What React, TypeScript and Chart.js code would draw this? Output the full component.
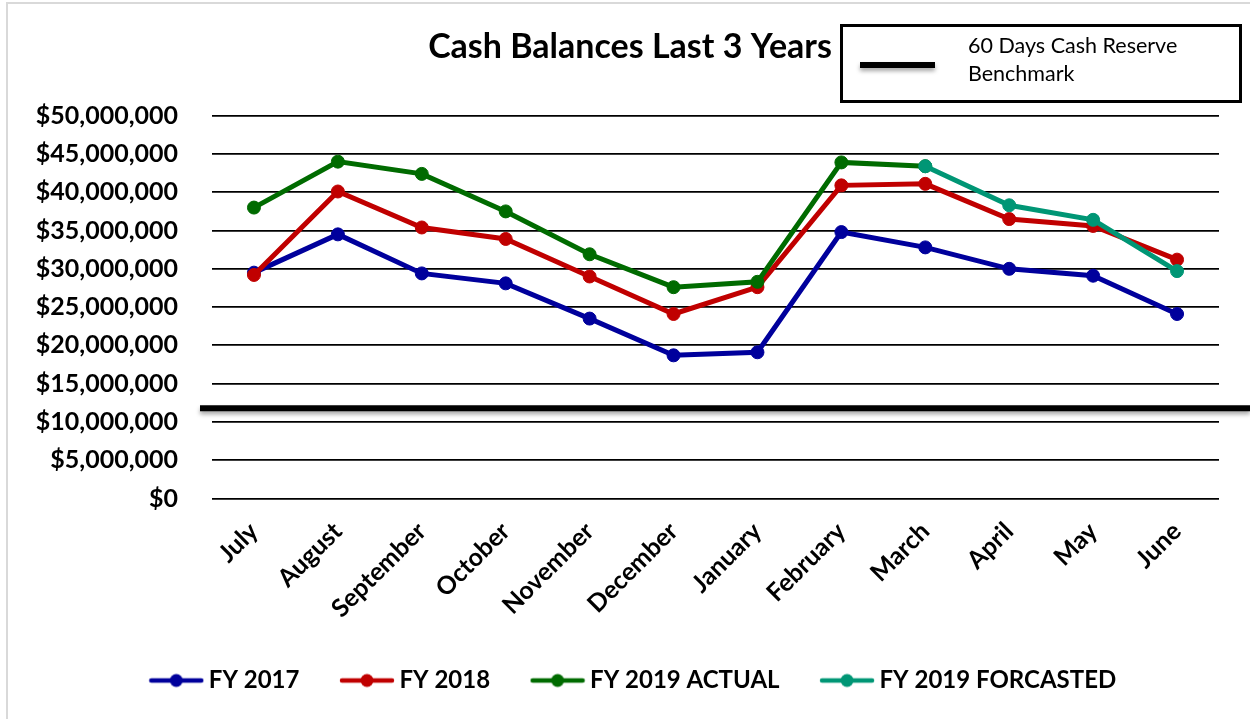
import React, { useEffect, useRef } from "react";
import { Chart, registerables } from "chart.js";

Chart.register(...registerables);

const TITLE = "Cash Balances Last 3 Years";
const BENCHMARK_LABEL = ["60 Days Cash Reserve", "Benchmark"];
const MONTHS = ["July", "August", "September", "October", "November", "December", "January", "February", "March", "April", "May", "June"];
const FY2017 = [29500000, 34500000, 29400000, 28100000, 23500000, 18700000, 19100000, 34800000, 32800000, 30000000, 29100000, 24100000];
const FY2018 = [29200000, 40100000, 35400000, 33900000, 29000000, 24100000, 27600000, 40900000, 41100000, 36500000, 35600000, 31200000];
const FY2019_ACTUAL = [38000000, 44000000, 42400000, 37500000, 31900000, 27600000, 28300000, 43900000, 43400000, null, null, null];
const FY2019_FORECAST = [null, null, null, null, null, null, null, null, 43400000, 38300000, 36400000, 29700000];
const SERIES_NAMES = ["FY 2017", "FY 2018", "FY 2019 ACTUAL", "FY 2019 FORCASTED"];
const SERIES_COLORS = ["#00009C", "#C00000", "#006B00", "#009675"];
const BENCHMARK = 11800000;
const Y_MIN = 0;
const Y_MAX = 50000000;
const Y_STEP = 5000000;

const FONT = "Lato";

function makeIcon(color: string): HTMLCanvasElement {
  const c = document.createElement("canvas");
  c.width = 56;
  c.height = 16;
  const g = c.getContext("2d")!;
  g.strokeStyle = color;
  g.lineWidth = 4.5;
  g.lineCap = "round";
  g.beginPath();
  g.moveTo(3, 8);
  g.lineTo(53, 8);
  g.stroke();
  g.fillStyle = color;
  g.beginPath();
  g.arc(28, 8, 6.5, 0, Math.PI * 2);
  g.fill();
  return c;
}

const overlayPlugin = {
  id: "overlay",
  afterDraw(chart: any) {
    const { ctx } = chart;
    const yScale = chart.scales.y;
    const by = yScale.getPixelForValue(BENCHMARK);

    // benchmark line
    ctx.save();
    ctx.shadowColor = "rgba(0,0,0,0.35)";
    ctx.shadowBlur = 4;
    ctx.shadowOffsetY = 3;
    ctx.strokeStyle = "#000";
    ctx.lineWidth = 6;
    ctx.beginPath();
    ctx.moveTo(200, by);
    ctx.lineTo(1250, by);
    ctx.stroke();
    ctx.restore();

    // title
    ctx.save();
    ctx.fillStyle = "#000";
    ctx.font = `bold 34px ${FONT}`;
    ctx.textAlign = "center";
    ctx.textBaseline = "middle";
    ctx.fillText(TITLE, 630, 47);
    ctx.restore();

    // benchmark legend box
    ctx.save();
    ctx.strokeStyle = "#000";
    ctx.lineWidth = 3;
    ctx.strokeRect(841.5, 25.5, 399, 76);
    ctx.shadowColor = "rgba(0,0,0,0.35)";
    ctx.shadowBlur = 4;
    ctx.shadowOffsetY = 3;
    ctx.lineWidth = 6;
    ctx.beginPath();
    ctx.moveTo(860, 65);
    ctx.lineTo(935, 65);
    ctx.stroke();
    ctx.restore();

    ctx.save();
    ctx.fillStyle = "#000";
    ctx.font = `21.5px ${FONT}`;
    ctx.textAlign = "left";
    ctx.textBaseline = "middle";
    ctx.fillText(BENCHMARK_LABEL[0], 968, 46);
    ctx.fillText(BENCHMARK_LABEL[1], 968, 74);
    ctx.restore();
  },
};

export default function App() {
  const ref = useRef<HTMLCanvasElement>(null);

  useEffect(() => {
    const icons = SERIES_COLORS.map(makeIcon);
    const seriesData = [FY2017, FY2018, FY2019_ACTUAL, FY2019_FORECAST];
    const datasets = seriesData.map((d, i) => ({
      label: SERIES_NAMES[i],
      data: d,
      yAxisID: "y",
      borderColor: SERIES_COLORS[i],
      backgroundColor: SERIES_COLORS[i],
      pointBackgroundColor: SERIES_COLORS[i],
      pointBorderColor: SERIES_COLORS[i],
      pointRadius: 6.5,
      pointBorderWidth: 1,
      borderWidth: 5,
      tension: 0,
      spanGaps: false,
      order: 4 - i,
    }));

    const chart = new Chart(ref.current!, {
      type: "line",
      data: { labels: MONTHS, datasets },
      plugins: [overlayPlugin],
      options: {
        animation: false,
        responsive: false,
        devicePixelRatio: 1,
        layout: { padding: { left: 30, right: 8, top: 115.7, bottom: 16.5 } },
        plugins: {
          title: { display: false },
          tooltip: { enabled: false },
          legend: {
            position: "bottom",
            labels: {
              usePointStyle: true,
              pointStyleWidth: 41,
              padding: 47,
              color: "#000",
              font: { family: FONT, weight: "bold", size: 24 },
              sort: (a: any, b: any) => a.datasetIndex - b.datasetIndex,
              generateLabels(ch: any) {
                const items = (Chart.defaults.plugins.legend.labels as any).generateLabels(ch);
                return items.map((it: any) => ({ ...it, pointStyle: icons[it.datasetIndex] }));
              },
            },
          },
        },
        scales: {
          x: {
            offset: true,
            grid: { display: false },
            border: { display: false },
            ticks: {
              autoSkip: false,
              minRotation: 45,
              maxRotation: 45,
              padding: 10,
              color: "#000",
              font: { family: FONT, weight: "bold", size: 25 },
            },
            afterFit(s: any) {
              s.height = 123;
            },
          },
          y: {
            position: "left",
            min: Y_MIN,
            max: Y_MAX,
            grid: { color: "#000", lineWidth: 1.8, drawTicks: false },
            border: { display: false },
            ticks: {
              stepSize: Y_STEP,
              padding: 34,
              color: "#000",
              font: { family: FONT, weight: "bold", size: 25 },
              callback: (v: any) => "$" + Number(v).toLocaleString("en-US"),
            },
            afterFit(s: any) {
              s.width = 182;
            },
          },
          yRight: {
            position: "right",
            display: true,
            min: Y_MIN,
            max: Y_MAX,
            grid: { display: false, drawTicks: false },
            border: { display: false },
            ticks: { display: false },
            afterFit(s: any) {
              s.width = 23;
            },
          },
        },
      },
    } as any);
    return () => chart.destroy();
  }, []);

  return (
    <div style={{ position: "fixed", left: 0, top: 0, width: 1250, height: 719, background: "#fff", overflow: "hidden" }}>
      <div
        style={{
          position: "absolute",
          left: 6,
          top: 2,
          right: -10,
          bottom: -10,
          borderLeft: "2px solid #d9d9d9",
          borderTop: "2px solid #d9d9d9",
        }}
      />
      <canvas ref={ref} width={1250} height={719} style={{ position: "absolute", left: 0, top: 0 }} />
    </div>
  );
}
